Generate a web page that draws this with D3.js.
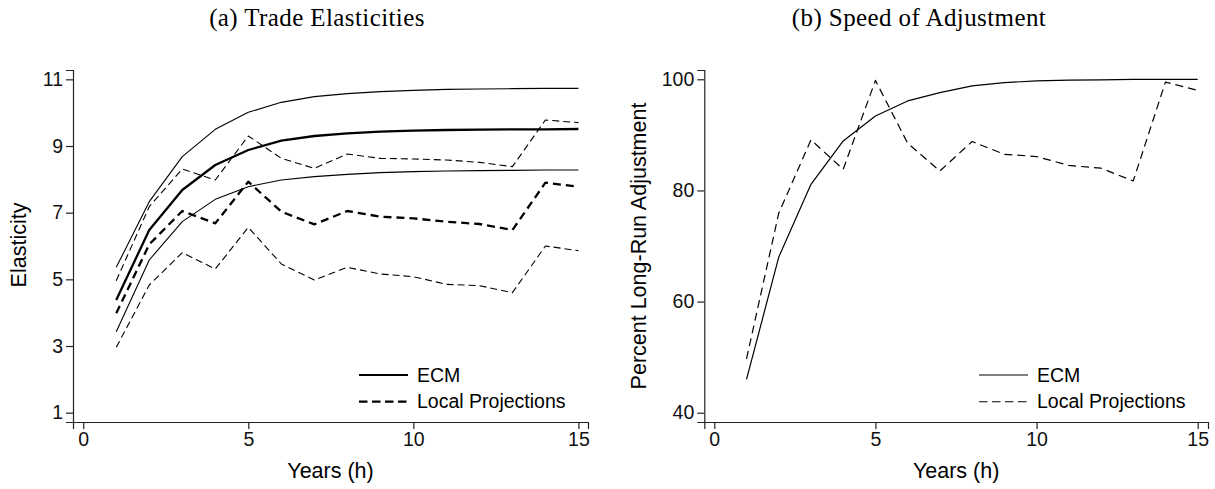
<!DOCTYPE html>
<html>
<head>
<meta charset="utf-8">
<script src="https://cdn.jsdelivr.net/npm/d3@7"></script>
<style>
  body { margin: 0; background: #fff; }
  svg { display: block; }
  .domain, .tick line { stroke: #222; stroke-width: 1.2; }
</style>
</head>
<body>
<div id="chart"></div>
<script>
// horizon in years
const years = d3.range(1, 16);

// (a) Trade Elasticities
const ecmMid   = [4.38, 6.48, 7.68, 8.43, 8.88, 9.16, 9.30, 9.38, 9.43, 9.46, 9.48, 9.49, 9.50, 9.50, 9.51];
const ecmHigh  = [5.36, 7.33, 8.68, 9.50, 10.01, 10.31, 10.48, 10.57, 10.63, 10.67, 10.70, 10.71, 10.72, 10.73, 10.73];
const ecmLow   = [3.43, 5.58, 6.73, 7.40, 7.78, 7.98, 8.08, 8.15, 8.20, 8.23, 8.25, 8.26, 8.27, 8.28, 8.28];
const lpMid    = [3.98, 6.05, 7.05, 6.68, 7.93, 7.03, 6.65, 7.05, 6.88, 6.83, 6.73, 6.66, 6.48, 7.90, 7.78];
const lpHigh   = [4.96, 7.18, 8.31, 7.98, 9.30, 8.63, 8.33, 8.76, 8.63, 8.61, 8.58, 8.51, 8.38, 9.78, 9.70];
const lpLow    = [2.96, 4.83, 5.80, 5.31, 6.56, 5.46, 4.98, 5.36, 5.16, 5.08, 4.85, 4.81, 4.60, 6.00, 5.86];

// (b) Speed of Adjustment
const ecmSpeed = [46.0, 68.0, 81.1, 88.9, 93.4, 96.1, 97.6, 98.8, 99.4, 99.7, 99.85, 99.9, 100, 100, 100];
const lpSpeed  = [49.7, 75.9, 89.1, 83.8, 99.8, 88.5, 83.5, 88.8, 86.5, 86.1, 84.5, 84.0, 81.7, 99.5, 98.0];

const xTicks = [0, 5, 10, 15];
const yTicksA = [1, 3, 5, 7, 9, 11];
const yTicksB = [40, 60, 80, 100];
const legendLabels = ["ECM", "Local Projections"];

const W = 1215, H = 489;
const sans = "'Liberation Sans', Arial, sans-serif";
const serif = "'Liberation Serif', 'Times New Roman', serif";

const svg = d3.select("#chart").append("svg").attr("width", W).attr("height", H);

function styleAxis(sel) {
  sel.attr("font-family", sans).attr("font-size", 19.5);
  sel.selectAll(".tick text").attr("fill", "#111");
}

function panel(opt) {
  const x = d3.scaleLinear(opt.xDomain, opt.xRange);
  const y = d3.scaleLinear(opt.yDomain, [422, 70]);
  const g = svg.append("g");

  g.append("g").attr("transform", "translate(0,422)")
    .call(d3.axisBottom(x).tickValues(xTicks).tickSizeOuter(0).tickSize(7).tickPadding(3))
    .call(styleAxis);
  g.append("g").attr("transform", `translate(${opt.xRange[0]},0)`)
    .call(d3.axisLeft(y).tickValues(opt.yTicks).tickSizeOuter(0).tickSize(7).tickPadding(3))
    .call(styleAxis);

  const line = d3.line().x((d, i) => x(years[i])).y(d => y(d));
  opt.series.forEach(s => {
    g.append("path").datum(s.values)
      .attr("d", line)
      .attr("fill", "none")
      .attr("stroke", "#000")
      .attr("stroke-width", s.width)
      .attr("stroke-dasharray", s.dash || null)
      .attr("stroke-linejoin", "round");
  });

  // titles
  g.append("text")
    .attr("x", opt.titleX).attr("y", 26)
    .attr("text-anchor", "middle")
    .style("font-family", serif)
    .style("font-size", "25px")
    .style("letter-spacing", "0.4px")
    .text(opt.title);
  g.append("text")
    .attr("x", (opt.xRange[0] + opt.xRange[1]) / 2).attr("y", 478)
    .attr("text-anchor", "middle")
    .style("font-family", sans)
    .style("font-size", "21.5px")
    .text("Years (h)");
  g.append("text")
    .attr("transform", `translate(${opt.yLabelX},${opt.yLabelY})rotate(-90)`)
    .attr("text-anchor", "middle")
    .style("font-family", sans)
    .style("font-size", "21.5px")
    .text(opt.yLabel);

  // legend
  const lg = g.append("g").attr("transform", `translate(${opt.legendX},375)`);
  legendLabels.forEach((lab, i) => {
    lg.append("line")
      .attr("x1", 0).attr("x2", 49).attr("y1", i * 26.7).attr("y2", i * 26.7)
      .attr("stroke", "#000")
      .attr("stroke-width", opt.legendWidth)
      .attr("stroke-dasharray", i === 1 ? "8.5,4.5" : null);
    lg.append("text")
      .attr("x", 58).attr("y", i * 26.7 + 6.5)
      .style("font-family", sans)
      .style("font-size", "19.5px")
      .text(lab);
  });
}

panel({
  xDomain: [-0.31, 15.29], xRange: [73, 588],
  yDomain: [0.72, 11.28], yTicks: yTicksA,
  title: "(a) Trade Elasticities", titleX: 317,
  yLabel: "Elasticity", yLabelX: 26, yLabelY: 245,
  legendX: 359, legendWidth: 2.2,
  series: [
    { values: ecmHigh, width: 1.1 },
    { values: ecmLow, width: 1.1 },
    { values: lpHigh, width: 1.1, dash: "7,4" },
    { values: lpLow, width: 1.1, dash: "7,4" },
    { values: ecmMid, width: 2.3 },
    { values: lpMid, width: 2.3, dash: "8,5" }
  ]
});

panel({
  xDomain: [-0.31, 15.32], xRange: [704.3, 1208],
  yDomain: [38.33, 101.67], yTicks: yTicksB,
  title: "(b) Speed of Adjustment", titleX: 919,
  yLabel: "Percent Long-Run Adjustment", yLabelX: 646, yLabelY: 246,
  legendX: 979, legendWidth: 1.1,
  series: [
    { values: ecmSpeed, width: 1.2 },
    { values: lpSpeed, width: 1.2, dash: "8,5" }
  ]
});
</script>
</body>
</html>
